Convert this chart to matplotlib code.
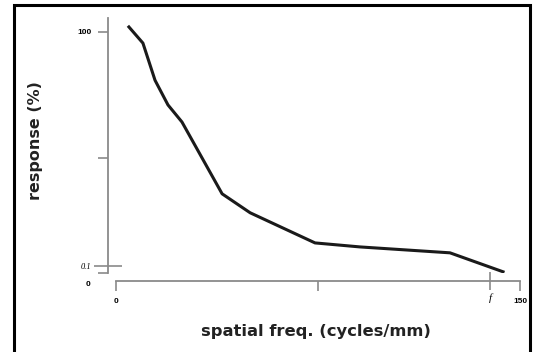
import matplotlib.pyplot as plt
from matplotlib.patches import Rectangle
from matplotlib.ticker import FixedLocator

# curve (x in cycles/mm, y in % on a log scale)
freq = [4.8, 10.0, 14.5, 19.3, 24.5, 39.4, 49.8, 73.9, 90.6, 124.0, 143.7]
response = [116, 72, 24, 11.6, 7.0, 0.84, 0.48, 0.197, 0.175, 0.147, 0.084]

x_major = [0, 75, 150]
x_major_labels = ["0", "", "150"]
x_minor = [139]
x_minor_labels = ["f"]
y_major = [0.081, 2.4, 100]
y_major_labels = ["", "", "100"]
y_minor = [0.1]
y_minor_labels = ["0.1"]

fig = plt.figure(figsize=(5.34, 3.52), dpi=100)
ax = fig.add_axes([0.2172, 0.2244, 0.7566, 0.7244])

ax.plot(freq, response, color="#1a1a1a", lw=2.2, solid_joinstyle="round")
ax.set_yscale("log")
ax.set_xlim(0, 150)
ax.set_ylim(0.081, 151)

for s in ["top", "right"]:
    ax.spines[s].set_visible(False)
for s in ["left", "bottom"]:
    ax.spines[s].set_color("#8a8a8a")
    ax.spines[s].set_linewidth(1.3)
    ax.spines[s].set_position(("outward", 5.8))

ax.xaxis.set_major_locator(FixedLocator(x_major))
ax.xaxis.set_minor_locator(FixedLocator(x_minor))
ax.set_xticklabels(x_major_labels)
ax.set_xticklabels(x_minor_labels, minor=True)
ax.yaxis.set_major_locator(FixedLocator(y_major))
ax.yaxis.set_minor_locator(FixedLocator(y_minor))
ax.set_yticklabels(y_major_labels)
ax.set_yticklabels(y_minor_labels, minor=True)

ax.tick_params(which="major", direction="out", length=7, width=1.2,
               color="#8a8a8a", labelsize=6, pad=5)
ax.tick_params(axis="x", which="minor", direction="inout", length=13,
               width=1.2, color="#8a8a8a", labelsize=8, pad=2)
ax.tick_params(axis="y", which="minor", direction="inout", length=20,
               width=1.2, color="#8a8a8a", labelsize=6, pad=2)
for t in ax.get_xticklabels() + ax.get_yticklabels():
    t.set_fontweight("bold")
    t.set_family("Liberation Sans")
for t in ax.get_xticklabels(minor=True) + ax.get_yticklabels(minor=True):
    t.set_fontstyle("italic")
    t.set_family("Liberation Serif")
ax.annotate("0", xy=(0, 0.081), xycoords="data", xytext=(-28, -11),
            textcoords="offset pixels", ha="center", va="center",
            fontsize=6, fontweight="bold", family="Liberation Sans")

ax.set_xlabel("spatial freq. (cycles/mm)", fontsize=11.8, fontweight="bold",
              family="DejaVu Sans", color="#222222")
ax.set_ylabel("response (%)", fontsize=11.5, fontweight="bold",
              family="DejaVu Sans", color="#222222")
ax.yaxis.set_label_coords(-0.18, 0.52)
ax.xaxis.set_label_coords(0.495, -0.2)

fig.add_artist(Rectangle((14 / 534, -0.05), 516 / 534, 0.9858 + 0.05,
                         transform=fig.transFigure, fill=False,
                         edgecolor="black", lw=2.2))

fig.savefig("out.png", dpi=100)
